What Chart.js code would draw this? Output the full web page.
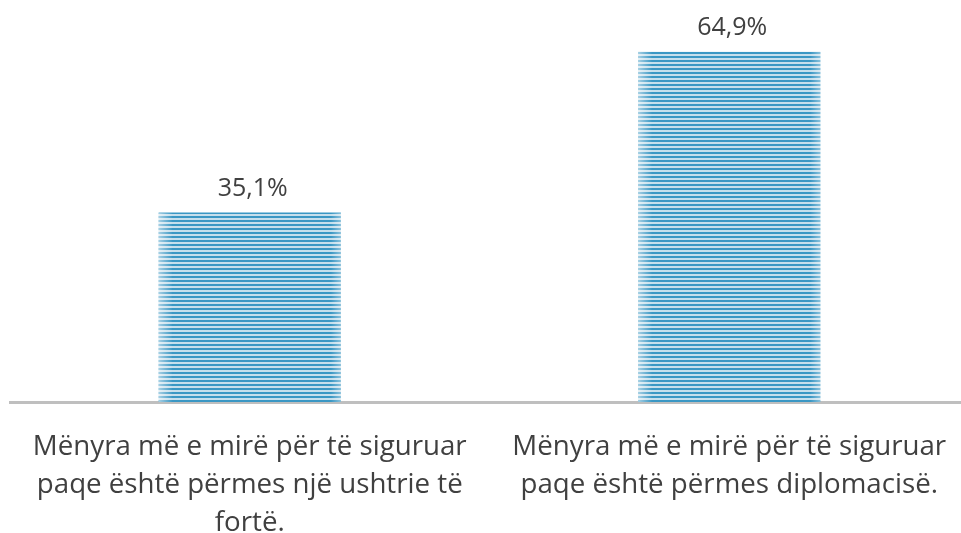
<!DOCTYPE html>
<html>
<head>
<meta charset="utf-8">
<script src="https://cdn.jsdelivr.net/npm/chart.js@4"></script>
<style>
  html, body { margin: 0; padding: 0; background: #fff; overflow: hidden; }
  #clip { width: 961px; height: 533px; overflow: hidden; position: relative; }
  #wrap { width: 969px; height: 533px; position: relative; }
</style>
</head>
<body>
<div id="clip"><div id="wrap"><canvas id="chart"></canvas></div></div>
<script>
const categories = [
    ["Mënyra më e mirë për të siguruar", "paqe është përmes një ushtrie të", "fortë."],
    ["Mënyra më e mirë për të siguruar", "paqe është përmes diplomacisë."]
];
const values = [35.1, 64.9];
const valueLabels = ["35,1%", "64,9%"];

const FONT = "'Open Sans', 'Noto Sans', sans-serif";
const TEXT = '#404040';

function stripes() {
    const c = document.createElement('canvas');
    c.width = 4; c.height = 4;
    const g = c.getContext('2d');
    g.fillStyle = '#C6DFEC';
    g.fillRect(0, 0, 4, 4);
    g.fillStyle = '#3A97C4';
    g.fillRect(0, 0, 4, 2);
    return g.createPattern(c, 'repeat');
}

const edgeFade = {
    id: 'edgeFade',
    afterDatasetsDraw(chart) {
        const ctx = chart.ctx;
        chart.getDatasetMeta(0).data.forEach(bar => {
            const left = bar.x - bar.width / 2, right = bar.x + bar.width / 2;
            const h = bar.base - bar.y;
            let g = ctx.createLinearGradient(left, 0, left + 14, 0);
            g.addColorStop(0, 'rgba(255,255,255,0.55)');
            g.addColorStop(1, 'rgba(255,255,255,0)');
            ctx.fillStyle = g;
            ctx.fillRect(left, bar.y, 14, h);
            g = ctx.createLinearGradient(right - 10, 0, right, 0);
            g.addColorStop(0, 'rgba(255,255,255,0)');
            g.addColorStop(1, 'rgba(255,255,255,0.4)');
            ctx.fillStyle = g;
            ctx.fillRect(right - 10, bar.y, 10, h);
        });
    }
};

const valueText = {
    id: 'valueText',
    afterDatasetsDraw(chart) {
        const ctx = chart.ctx;
        ctx.save();
        ctx.font = '25px ' + FONT;
        ctx.fillStyle = TEXT;
        ctx.textAlign = 'center';
        ctx.textBaseline = 'middle';
        chart.getDatasetMeta(0).data.forEach((bar, i) => {
            ctx.fillText(valueLabels[i], bar.x + 3, bar.y - 24);
        });
        ctx.restore();
    }
};

new Chart(document.getElementById('chart'), {
    type: 'bar',
    data: {
        labels: categories,
        datasets: [{
            data: values,
            backgroundColor: stripes(),
            barPercentage: 0.38,
            categoryPercentage: 1
        }]
    },
    options: {
        responsive: true,
        maintainAspectRatio: false,
        animation: false,
        layout: { padding: { left: 10, right: 0, top: 0, bottom: 0 } },
        plugins: { legend: { display: false }, tooltip: { enabled: false } },
        scales: {
            y: { display: false, min: 0, max: 74.5 },
            x: {
                afterFit(scale) { scale.height = 131; },
                grid: { display: false },
                border: { display: true, color: '#BFBFBF', width: 3 },
                ticks: {
                    color: TEXT,
                    maxRotation: 0,
                    autoSkip: false,
                    padding: 18,
                    font: { family: FONT, size: 27.7, lineHeight: '38px' }
                }
            }
        }
    },
    plugins: [edgeFade, valueText]
});
</script>
</body>
</html>
